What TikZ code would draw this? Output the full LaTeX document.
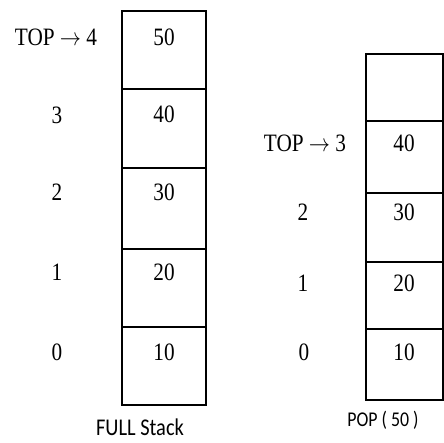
\documentclass[tikz,border=0pt]{standalone}
\usepackage{fontspec}
\usepackage{graphicx}
\setmainfont{Liberation Serif}
\newfontfamily\capfont{Carlito}
\newcommand{\narrowtext}[1]{\scalebox{0.85}[1]{#1}}

\begin{document}
\begin{tikzpicture}[x=1pt,y=-1pt,font=\fontsize{25}{30}\selectfont,
    cell/.style={draw=black, line width=1.6pt},
    val/.style={inner sep=0pt},
    caption/.style={inner sep=0pt, font=\capfont\fontsize{24}{28}\selectfont}]
    \useasboundingbox (0,0) rectangle (444,443);
    % full stack
    \draw[cell] (122,11)  rectangle (206,89);
    \draw[cell] (122,89)  rectangle (206,168);
    \draw[cell] (122,168) rectangle (206,249);
    \draw[cell] (122,249) rectangle (206,327);
    \draw[cell] (122,327) rectangle (206,405);
    \node[val] (full50) at (164,37)  {\narrowtext{50}};
    \node[val] (full40) at (164,114) {\narrowtext{40}};
    \node[val] (full30) at (164,192) {\narrowtext{30}};
    \node[val] (full20) at (164,272) {\narrowtext{20}};
    \node[val] (full10) at (164,352) {\narrowtext{10}};
    \node[val] (fulltop) at (56,37)  {\narrowtext{TOP $\rightarrow$ 4}};
    \node[val] (fullidx3) at (57,115) {\narrowtext{3}};
    \node[val] (fullidx2) at (57,192) {\narrowtext{2}};
    \node[val] (fullidx1) at (57,272) {\narrowtext{1}};
    \node[val] (fullidx0) at (57,352) {\narrowtext{0}};
    \node[caption] (fullcap) at (140,427) {\narrowtext{FULL Stack}};
    % stack after pop
    \draw[cell] (366,54)  rectangle (443,121);
    \draw[cell] (366,121) rectangle (443,193);
    \draw[cell] (366,193) rectangle (443,262);
    \draw[cell] (366,262) rectangle (443,329);
    \draw[cell] (366,329) rectangle (443,400);
    \node[val] (pop40) at (404,143) {\narrowtext{40}};
    \node[val] (pop30) at (404,212) {\narrowtext{30}};
    \node[val] (pop20) at (404,283) {\narrowtext{20}};
    \node[val] (pop10) at (404,352) {\narrowtext{10}};
    \node[val] (poptop) at (305,143)  {\narrowtext{TOP $\rightarrow$ 3}};
    \node[val] (popidx2) at (303,212) {\narrowtext{2}};
    \node[val] (popidx1) at (303,283) {\narrowtext{1}};
    \node[val] (popidx0) at (304,352) {\narrowtext{0}};
    \node[caption, font=\capfont\fontsize{21}{25}\selectfont] (popcap) at (383,420) {\narrowtext{POP ( 50 )}};
\end{tikzpicture}
\end{document}
